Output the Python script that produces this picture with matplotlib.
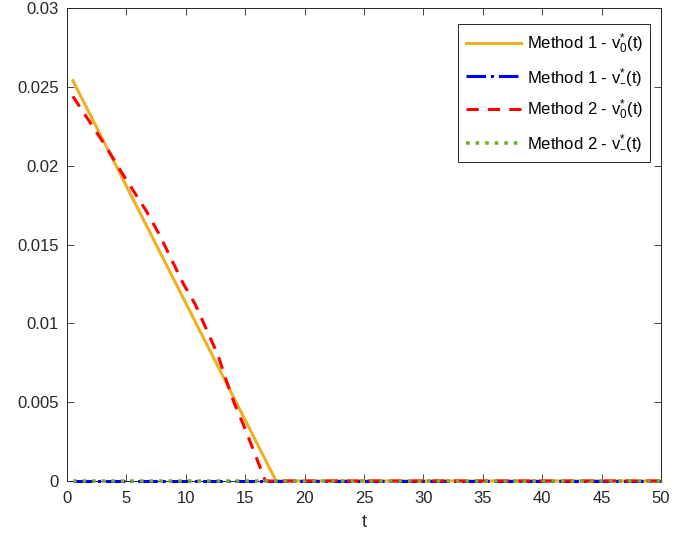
import matplotlib
matplotlib.use('Agg')
import matplotlib.pyplot as plt

plt.rcParams['font.family'] = ['Liberation Sans', 'DejaVu Sans']
plt.rcParams['mathtext.default'] = 'regular'

# Method 1 - v0*(t)
t_m1_v0 = [0.5, 17.6, 50]
m1_v0 = [0.0254, 0.0, 0.0]

# Method 2 - v0*(t)
t_m2_v0 = [0.5, 3.3, 4.5, 6.7, 7.8, 9.8, 10.8, 12.7, 13.4, 14.1, 15.0, 16.7, 50]
m2_v0 = [0.0244, 0.0212, 0.0197, 0.0171, 0.0156, 0.0125, 0.0112, 0.0080,
         0.0064, 0.0049, 0.0033, 0.0, 0.0]

# v-*(t) for both methods stay at zero
t_minus = [0.5, 50]
m1_vm = [0.0, 0.0]
m2_vm = [0.0, 0.0]

labels = ['Method 1 - v$^{*}_{0}$(t)', 'Method 1 - v$^{*}_{–}$(t)',
          'Method 2 - v$^{*}_{0}$(t)', 'Method 2 - v$^{*}_{–}$(t)']

fig = plt.figure(figsize=(6.76, 5.41), dpi=100)
ax = fig.add_axes([0.099, 0.111, 0.879, 0.874])

kw = dict(clip_on=False, zorder=3)
ax.plot(t_m1_v0, m1_v0, '-', color='#EDB120', lw=2.2, label=labels[0], **kw)
ax.plot(t_minus, m1_vm, '-.', color='#0000FF', lw=2.2, label=labels[1], **kw)
ax.plot(t_m2_v0, m2_v0, '--', color='#FF0000', lw=2.2, dashes=(4, 3), label=labels[2], **kw)
ax.plot(t_minus, m2_vm, ':', color='#77AC30', lw=2.6, label=labels[3], **kw)

ax.set_xlim(0, 50)
ax.set_ylim(0, 0.03)
ax.set_xticks(range(0, 51, 5))
ax.set_yticks([0, 0.005, 0.01, 0.015, 0.02, 0.025, 0.03])
ax.set_yticklabels(['0', '0.005', '0.01', '0.015', '0.02', '0.025', '0.03'])
ax.tick_params(direction='in', length=5, width=0.6, colors='#262626',
               labelsize=12, top=True, right=True)
ax.tick_params(axis='x', pad=7)
ax.tick_params(axis='y', pad=6)
for s in ax.spines.values():
    s.set_color('#262626')
    s.set_linewidth(0.7)
ax.set_xlabel('t', fontsize=13, color='#262626', labelpad=6)

leg = ax.legend(loc='upper right', fontsize=12, handlelength=3.3,
                fancybox=False, framealpha=1, edgecolor='#262626',
                borderpad=0.45, labelspacing=0.62, handletextpad=0.35,
                borderaxespad=0.3, bbox_to_anchor=(0.99, 0.977))
leg.get_frame().set_linewidth(0.7)

fig.savefig('out.png', dpi=100)
